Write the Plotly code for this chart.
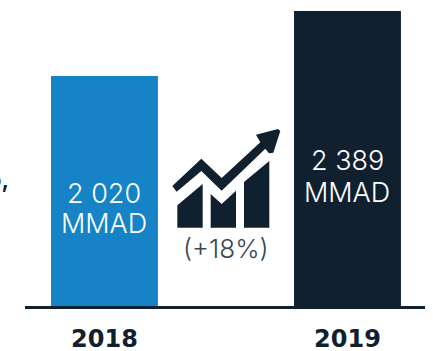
import plotly.graph_objects as go

W, H = 437, 351
ML, MR, MT, MB = 25, 12, 0, 45
years = ["2018", "2019"]
values = [2020, 2389]
value_lines = ["2 020", "2 389"]
unit = "MMAD"
bar_colors = ["#1583c6", "#10202f"]
growth_label = "(+18%)"
DARK = "#10202f"
FONT = "Inter"


def px(x):
    return (x - ML) / (W - ML - MR)


def py(y):
    return 1 - (y - MT) / (H - MT - MB)


def zoom_path(points):
    # Decorative icon outline, measured in the zoomed crop (3x, origin 0,100)
    parts = []
    for i, (a, b) in enumerate(points):
        parts.append(f"{'M' if i == 0 else 'L'}{px(a / 3):.4f},{py(100 + b / 3):.4f}")
    return " ".join(parts) + " Z"


arrow = [(517, 258), (604, 176), (665, 234), (781, 127), (768, 104), (834, 87), (841, 93),
         (820, 158), (807, 160), (796, 146), (665, 272), (604, 213), (530, 275)]
bar_a = [(532, 383), (532, 316), (608, 252), (608, 383)]
bar_b = [(632, 383), (632, 282), (665, 312), (708, 272), (708, 383)]
bar_c = [(732, 383), (732, 246), (808, 183), (808, 383)]

fig = go.Figure(go.Bar(x=years, y=values, marker=dict(color=bar_colors, line_width=0), width=0.44))

white = dict(family=FONT, size=27, color="#ffffff", weight=300)
annotations = [
    dict(x=0, xref="x", y=py(193), yref="paper", yanchor="middle", text=value_lines[0], showarrow=False, font=white),
    dict(x=0, xref="x", y=py(224), yref="paper", yanchor="middle", text=unit, showarrow=False, font=white),
    dict(x=1, xref="x", y=py(160), yref="paper", yanchor="middle", text=value_lines[1], showarrow=False, font=white),
    dict(x=1, xref="x", y=py(192), yref="paper", yanchor="middle", text=unit, showarrow=False, font=white),
    dict(x=px(226), y=py(248), xref="paper", yref="paper", yanchor="middle", text=growth_label, showarrow=False,
         font=dict(family=FONT, size=26, color="#3a4754", weight=300)),
    dict(x=px(11), y=py(179), xref="paper", yref="paper", yanchor="middle", xanchor="right", text="o,", showarrow=False,
         font=dict(family=FONT, size=24, color=DARK, weight=600)),
]

fig.update_layout(
    width=W, height=H, autosize=False,
    margin=dict(l=ML, r=MR, t=MT, b=MB),
    paper_bgcolor="white", plot_bgcolor="white",
    showlegend=False,
    xaxis=dict(type="category", range=[-0.327, 1.319], showline=True, linecolor=DARK, linewidth=2.5,
               ticks="", showgrid=False, zeroline=False, ticklen=0, ticklabelstandoff=9, automargin=False,
               tickfont=dict(family="DejaVu Sans", size=24, color=DARK, weight=700)),
    yaxis=dict(range=[714, 2451], visible=False, showgrid=False, zeroline=False, automargin=False),
    annotations=annotations,
    shapes=[dict(type="path", xref="paper", yref="paper", path=zoom_path(p),
                 fillcolor=DARK, line_width=0) for p in (arrow, bar_a, bar_b, bar_c)],
)
fig.write_html("out.html", config=dict(displayModeBar=False),
               post_script="document.body.style.margin='0';document.documentElement.style.overflow='hidden';")
